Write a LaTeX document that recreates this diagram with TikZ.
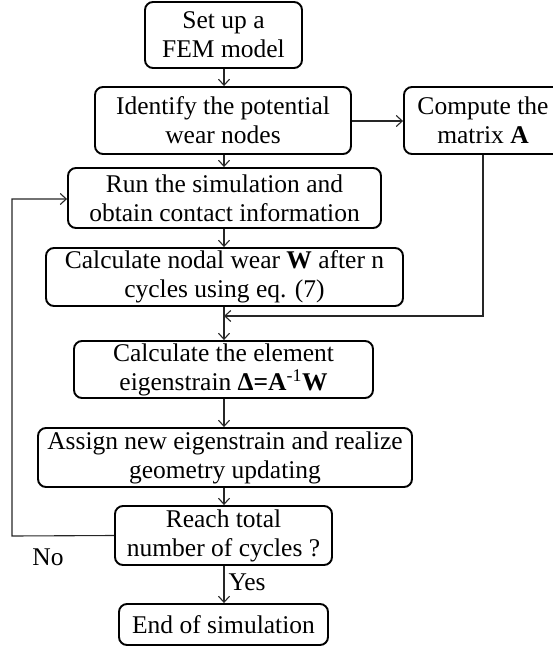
\documentclass[tikz,border=0pt]{standalone}
\usepackage{fontspec}
\setmainfont{Liberation Serif}
\usetikzlibrary{arrows.meta}
\tikzset{
  box/.style={draw=black, line width=1.9pt, rounded corners=8pt, align=center,
    inner sep=0pt, font=\fontsize{25.5}{29}\selectfont},
  conn/.style={draw=black!85, line width=1.1pt},
  arr/.style={conn, -{Straight Barb[length=6pt,width=11pt,line width=1.1pt]}},
  lbl/.style={font=\fontsize{25.5}{29}\selectfont, inner sep=0pt}
}
\begin{document}
\begin{tikzpicture}[x=1pt,y=-1pt]
\useasboundingbox (0,0) rectangle (552,647);
\node[box, minimum width=157pt, minimum height=66pt] (b1) at (223.5,35) {Set up a\\FEM model};
\node[box, minimum width=256pt, minimum height=67pt] (b2) at (223,120.5) {Identify the potential\\wear nodes};
\node[box, minimum width=158pt, minimum height=67pt] (ca) at (483,120.5) {Compute the\\matrix \textbf{A}};
\node[box, minimum width=313pt, minimum height=60pt] (b3) at (224.5,198) {Run the simulation and\\obtain contact information};
\node[box, minimum width=357pt, minimum height=58pt] (b4) at (224.5,277) {Calculate nodal wear \textbf{W} after n\\cycles using eq. (7)};
\node[box, minimum width=299pt, minimum height=57pt] (b5) at (223.5,369.5) {Calculate the element\\eigenstrain \textbf{Δ=A}\textsuperscript{-1}\textbf{W}};
\node[box, minimum width=374pt, minimum height=59pt] (b6) at (225,457.5) {Assign new eigenstrain and realize\\geometry updating};
\node[box, minimum width=217pt, minimum height=59pt] (b7) at (223.5,535.5) {Reach total\\number of cycles ?};
\node[box, minimum width=209pt, minimum height=41pt] (b8) at (223.5,624.5) {End of simulation};

\coordinate (m) at (224,316);
\coordinate (fl) at (12,536);
\coordinate (fu) at (12,199);
\coordinate (cr) at (483,316);

\draw[arr] (b1.south -| 224,0) -- (b2.north -| 224,0);
\draw[arr] (b2.east |- 0,121) -- (ca.west |- 0,121);
\draw[arr] (b2.south -| 224,0) -- (b3.north -| 224,0);
\draw[arr] (b3.south -| 224,0) -- (b4.north -| 224,0);
\draw[arr] (b4.south -| 224,0) -- (b5.north -| 224,0);
\draw[arr] (ca.south) -- (cr) -- (m);
\draw[arr] (b5.south -| 224,0) -- (b6.north -| 224,0);
\draw[arr] (b6.south -| 224,0) -- (b7.north -| 224,0);
\draw[arr] (b7.south -| 224,0) -- node[lbl, anchor=west, xshift=4pt, yshift=2pt] (yes) {Yes} (b8.north -| 224,0);
\draw[arr] (b7.west) -- (fl) -- (fu) -- (b3.west |- fu);
\node[lbl] (no) at (48,557) {No};
\end{tikzpicture}
\end{document}
